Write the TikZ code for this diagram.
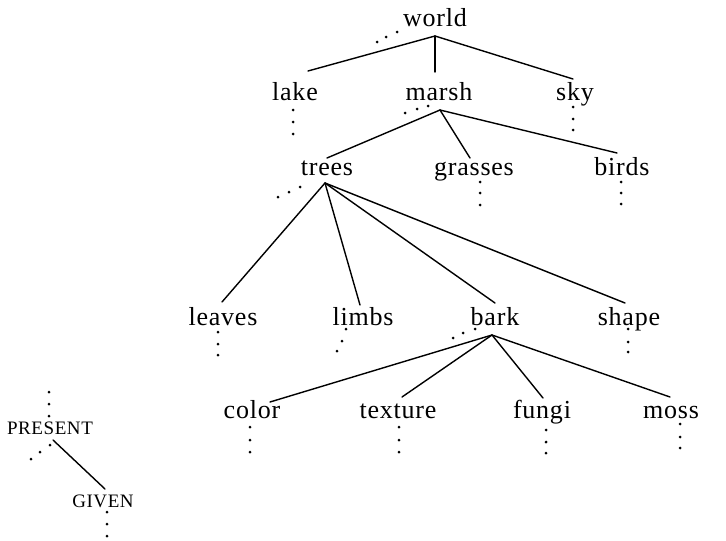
\documentclass[tikz,border=0pt]{standalone}
\usepackage{fontspec}
\setmainfont[LetterSpace=3]{Liberation Serif}
\begin{document}
\begin{tikzpicture}[x=1pt,y=-1pt,
  word/.style={anchor=base,inner sep=0pt,font=\fontsize{26}{30}\selectfont},
  capword/.style={anchor=base,inner sep=0pt,font=\fontsize{19}{22}\selectfont},
  edge/.style={line width=1.4pt,line cap=round},
  dotr/.style={fill=black}]
\useasboundingbox[fill=white] (0,0) rectangle (726,541);
% nodes
\node[word] (world) at (435,26) {world};
\node[word] (lake) at (295,100) {lake};
\node[word] (marsh) at (439,100) {marsh};
\node[word] (sky) at (575,100) {sky};
\node[word] (trees) at (327,175) {trees};
\node[word] (grasses) at (474,175) {grasses};
\node[word] (birds) at (622,175) {birds};
\node[word] (leaves) at (223,325) {leaves};
\node[word] (limbs) at (363,325) {limbs};
\node[word] (bark) at (495,325) {bark};
\node[word] (shape) at (629,325) {shape};
\node[word] (color) at (252,418) {color};
\node[word] (texture) at (398,418) {texture};
\node[word] (fungi) at (542,418) {fungi};
\node[word] (moss) at (671,418) {moss};
\node[capword] (present) at (50,434) {PRESENT};
\node[capword] (given) at (103,507) {GIVEN};
% branch points
\coordinate (wB) at (435,36);
\coordinate (mB) at (440,110);
\coordinate (tB) at (325,183);
\coordinate (bB) at (492,335);
% connectors
\draw[edge] (wB) -- ([xshift=13pt,yshift=29pt]lake.base);
\draw[edge] (wB) -- ([xshift=-4pt,yshift=28pt]marsh.base);
\draw[edge] (wB) -- ([xshift=-2pt,yshift=21pt]sky.base);
\draw[edge] (mB) -- ([xshift=0pt,yshift=17pt]trees.base);
\draw[edge] (mB) -- ([xshift=-4pt,yshift=17pt]grasses.base);
\draw[edge] (mB) -- ([xshift=-5pt,yshift=22pt]birds.base);
\draw[edge] (tB) -- ([xshift=-1pt,yshift=23pt]leaves.base);
\draw[edge] (tB) -- ([xshift=-3pt,yshift=20pt]limbs.base);
\draw[edge] (tB) -- ([xshift=0pt,yshift=22pt]bark.base);
\draw[edge] (tB) -- ([xshift=-4pt,yshift=22pt]shape.base);
\draw[edge] (bB) -- ([xshift=18pt,yshift=16pt]color.base);
\draw[edge] (bB) -- ([xshift=4pt,yshift=21pt]texture.base);
\draw[edge] (bB) -- ([xshift=1pt,yshift=20pt]fungi.base);
\draw[edge] (bB) -- ([xshift=-1pt,yshift=21pt]moss.base);
\draw[edge] ([xshift=3pt,yshift=-6pt]present.base) -- ([xshift=2pt,yshift=18pt]given.base);
% dots
\foreach \p in {(377,42),(386,37),(397,32),
  (293,110),(293,122),(293,134),
  (405,113),(417,109),(428,106),
  (573,107),(573,119),(573,130),
  (278,197),(289,192),(300,187),
  (480,182),(480,193),(480,205),
  (621,182),(621,193),(621,204),
  (218,332),(218,344),(218,355),
  (346,329),(342,341),(337,351),
  (453,338),(463,333),(475,329),
  (628,329),(628,342),(628,352),
  (250,427),(250,440),(250,452),
  (399,427),(399,440),(399,452),
  (546,430),(546,442),(546,453),
  (680,424),(680,437),(680,448),
  (49,392),(49,404),(49,416),
  (50,445),(40,452),(31,459),
  (107,512),(107,524),(107,536)}
  \fill[dotr] \p circle (1.5);
\end{tikzpicture}
\end{document}
